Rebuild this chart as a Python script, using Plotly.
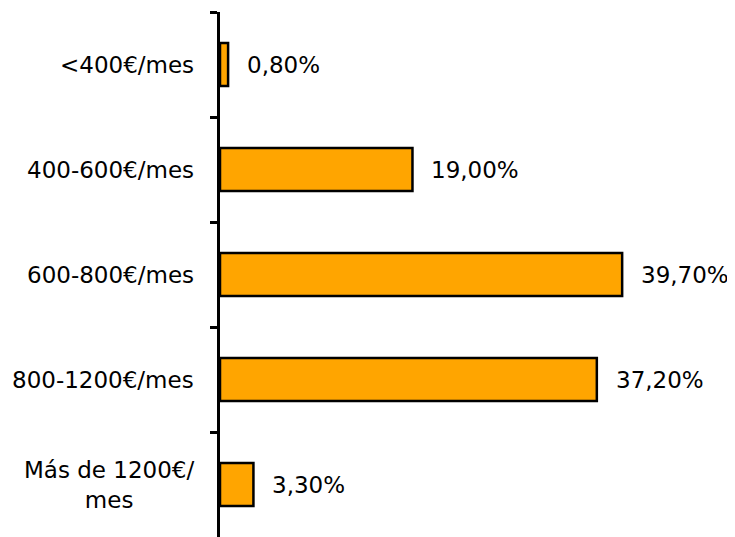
import plotly.graph_objects as go

categories = ["<400€/mes", "400-600€/mes", "600-800€/mes", "800-1200€/mes", "Más de 1200€/<br>mes"]
values = [0.8, 19.0, 39.7, 37.2, 3.3]
value_labels = ["0,80%", "19,00%", "39,70%", "37,20%", "3,30%"]

FONT = dict(family="DejaVu Sans", size=23, color="#000000")

fig = go.Figure(
    go.Bar(
        x=values,
        y=categories,
        orientation="h",
        marker=dict(color="#FFA500", line=dict(color="#000000", width=2.5)),
        width=0.41,
        hoverinfo="skip",
    )
)

# value labels right of each bar
for cat, val, lab in zip(categories, values, value_labels):
    fig.add_annotation(
        x=val, y=cat, xref="x", yref="y", text=lab, showarrow=False,
        xanchor="left", xshift=17, font=FONT,
    )

# category labels, centred lines like the original
for cat in categories:
    fig.add_annotation(
        x=0, y=cat, xref="paper", yref="y", text=cat, showarrow=False,
        xanchor="right", align="center", xshift=-24, font=FONT,
    )

# the page body adds an 8px margin, so the figure is sized to fit the window
fig.update_layout(
    width=727,
    height=529,
    margin=dict(l=212, r=0, t=4, b=0),
    paper_bgcolor="white",
    plot_bgcolor="white",
    showlegend=False,
    xaxis=dict(visible=False, range=[0, 50.84]),
    yaxis=dict(
        autorange="reversed",
        showticklabels=False,
        showgrid=False,
        zeroline=False,
        showline=True,
        linecolor="#000000",
        linewidth=3,
        ticks="outside",
        tickson="boundaries",
        ticklen=7,
        tickwidth=2.5,
        tickcolor="#000000",
    ),
)

fig.write_html("out.html")
